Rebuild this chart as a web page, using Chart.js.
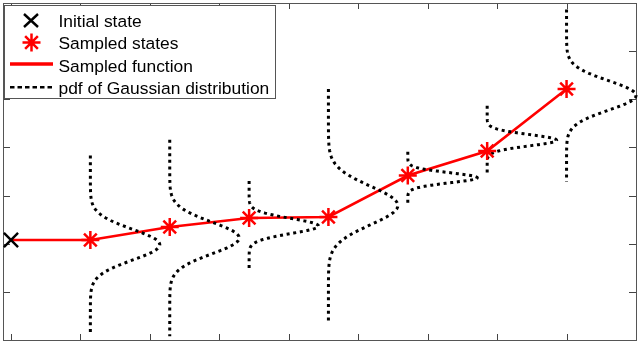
<!DOCTYPE html>
<html><head><meta charset="utf-8">
<style>html,body{margin:0;padding:0;background:#fff}#c{display:block}</style>
<script src="https://cdn.jsdelivr.net/npm/chart.js@4.4.1/dist/chart.umd.min.js"></script>
</head><body>
<canvas id="c" width="640" height="344"></canvas>
<script>
// ---- data ----
const xTicks = [0, 1, 2, 3, 4, 5, 6, 7, 8, 9];
const yTicks = [0, 1, 2, 3, 4, 5, 6, 7];
const stateX = [0, 1.143, 2.286, 3.429, 4.571, 5.714, 6.857, 8.0];
const stateY = [2.077, 2.077, 2.347, 2.534, 2.555, 3.417, 3.926, 5.214];
// Gaussian pdf drawn at each sampled state (states 1..7)
const pdfMean  = [1.98, 2.12, 2.368, 2.794, 3.37, 4.15, 5.08];
const pdfSigma = [0.32, 0.33, 0.156, 0.40, 0.105, 0.118, 0.305];
const pdfHalf  = [1.85, 2.04, 0.935, 2.42, 0.54, 0.717, 1.787];
const pdfPeak  = 1.0;
const legendLabels = ['Initial state', 'Sampled states', 'Sampled function', 'pdf of Gaussian distribution'];

const FONT = '17.4px "Liberation Sans", Arial, sans-serif';

function pdfCurve(i) {
  const pts = [];
  const n = 140;
  const x0 = stateX[i + 1];
  for (let k = 0; k <= n; k++) {
    const y = pdfMean[i] + pdfHalf[i] - 2 * pdfHalf[i] * k / n;
    const z = (y - pdfMean[i]) / pdfSigma[i];
    pts.push({ x: x0 + pdfPeak * Math.exp(-0.5 * z * z), y });
  }
  return pts;
}

const datasets = [];
datasets.push({
  label: legendLabels[2],
  data: stateX.map((x, i) => ({ x, y: stateY[i] })),
  showLine: true, borderColor: '#ff0000', borderWidth: 2.6,
  pointRadius: 0, order: 3
});
for (let i = 0; i < pdfMean.length; i++) {
  datasets.push({
    label: legendLabels[3],
    data: pdfCurve(i),
    showLine: true, borderColor: '#000', borderWidth: 3,
    borderDash: [3, 3.7], pointRadius: 0, order: 2, clip: 4
  });
}
datasets.push({
  label: legendLabels[1],
  data: stateX.slice(1).map((x, i) => ({ x, y: stateY[i + 1] })),
  showLine: false, pointStyle: 'star', pointRadius: 9,
  borderColor: '#ff0000', backgroundColor: '#ff0000', pointBorderWidth: 2.5, order: 0
});
datasets.push({
  label: legendLabels[0],
  data: [{ x: stateX[0], y: stateY[0] }],
  showLine: false, pointStyle: 'crossRot', pointRadius: 10,
  borderColor: '#000', backgroundColor: '#000', pointBorderWidth: 2.4, order: 0, clip: 10
});

const framePlugin = {
  id: 'frame',
  beforeDatasetsDraw(chart) {
    const { ctx, chartArea: a, scales } = chart;
    ctx.save();
    ctx.strokeStyle = '#444';
    ctx.lineWidth = 1;
    ctx.beginPath();
    xTicks.forEach(v => {
      const px = Math.round(scales.x.getPixelForValue(v)) + 0.5;
      ctx.moveTo(px, a.bottom); ctx.lineTo(px, a.bottom - 6);
      ctx.moveTo(px, a.top); ctx.lineTo(px, a.top + 6);
    });
    yTicks.forEach(v => {
      const py = Math.round(scales.y.getPixelForValue(v)) + 0.5;
      ctx.moveTo(a.left, py); ctx.lineTo(a.left + 7, py);
      ctx.moveTo(a.right, py); ctx.lineTo(a.right - 7, py);
    });
    ctx.stroke();
    ctx.strokeStyle = '#555';
    ctx.strokeRect(Math.round(a.left) + 0.5, Math.round(a.top) + 0.5,
      Math.round(a.right - a.left), Math.round(a.bottom - a.top));
    ctx.restore();
  },
  afterDraw(chart) {
    const ctx = chart.ctx;
    ctx.save();
    // legend box
    ctx.fillStyle = '#fff';
    ctx.fillRect(4, 5, 272, 94);
    ctx.strokeStyle = '#555';
    ctx.lineWidth = 1;
    ctx.strokeRect(4.5, 5.5, 271, 93);
    // X marker
    ctx.strokeStyle = '#000'; ctx.lineWidth = 2.4;
    ctx.beginPath();
    ctx.moveTo(24, 14); ctx.lineTo(38, 27);
    ctx.moveTo(38, 14); ctx.lineTo(24, 27);
    ctx.stroke();
    // star marker
    const sx = 31.5, sy = 42.5, r = 9, d = r * Math.SQRT1_2;
    ctx.strokeStyle = '#ff0000'; ctx.lineWidth = 2.5;
    ctx.beginPath();
    ctx.moveTo(sx - r, sy); ctx.lineTo(sx + r, sy);
    ctx.moveTo(sx, sy - r); ctx.lineTo(sx, sy + r);
    ctx.moveTo(sx - d, sy - d); ctx.lineTo(sx + d, sy + d);
    ctx.moveTo(sx + d, sy - d); ctx.lineTo(sx - d, sy + d);
    ctx.stroke();
    // red line
    ctx.lineWidth = 3.5;
    ctx.beginPath(); ctx.moveTo(10, 64); ctx.lineTo(53, 64); ctx.stroke();
    // dotted line
    ctx.strokeStyle = '#000'; ctx.lineWidth = 2.6;
    ctx.setLineDash([4.5, 3]);
    ctx.beginPath(); ctx.moveTo(10, 87.3); ctx.lineTo(54, 87.3); ctx.stroke();
    ctx.setLineDash([]);
    // texts
    ctx.fillStyle = '#000';
    ctx.font = FONT;
    ctx.textBaseline = 'alphabetic';
    const base = [26.7, 49.2, 71.7, 93.5];
    legendLabels.forEach((t, i) => ctx.fillText(t, 58.5, base[i]));
    ctx.restore();
  }
};

new Chart(document.getElementById('c'), {
  type: 'scatter',
  data: { datasets },
  options: {
    responsive: false,
    animation: false,
    devicePixelRatio: 1,
    layout: { autoPadding: false, padding: { left: 3, top: 3, right: 4, bottom: 4 } },
    plugins: { legend: { display: false }, tooltip: { enabled: false } },
    scales: {
      x: { type: 'linear', display: false, min: -0.115, max: 9.0 },
      y: { type: 'linear', display: false, min: 0, max: 7 }
    }
  },
  plugins: [framePlugin]
});
</script>
</body></html>
